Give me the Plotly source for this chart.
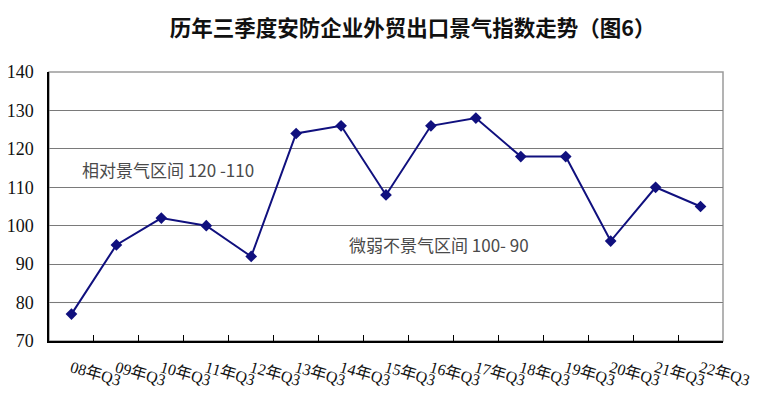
import plotly.graph_objects as go

categories = ["08年Q3", "09年Q3", "10年Q3", "11年Q3", "12年Q3", "13年Q3", "14年Q3", "15年Q3",
              "16年Q3", "17年Q3", "18年Q3", "19年Q3", "20年Q3", "21年Q3", "22年Q3"]
values = [77, 95, 102, 100, 92, 124, 126, 108, 126, 128, 118, 118, 96, 110, 105]
y_ticks = [70, 80, 90, 100, 110, 120, 130, 140]

title_text = "历年三季度安防企业外贸出口景气指数走势（图6）"
note_high = "相对景气区间 120 -110"
note_low = "微弱不景气区间 100- 90"

serif = "Liberation Serif, Times New Roman, Noto Sans CJK SC, serif"
cjk = "Noto Sans CJK SC, sans-serif"

fig = go.Figure()
fig.add_trace(go.Scatter(
    x=categories, y=values, mode="lines+markers",
    line=dict(color="#10107e", width=2),
    marker=dict(symbol="diamond", size=9, color="#10107e"),
    showlegend=False, cliponaxis=False,
))

# plot frame (top/right gray), faint 80 gridline
fig.add_shape(type="rect", xref="paper", yref="paper", x0=0, x1=1, y0=0, y1=1,
              line=dict(color="#9a9a9a", width=1.5), layer="below")
fig.add_shape(type="line", xref="paper", yref="y", x0=0, x1=1, y0=80, y1=80,
              line=dict(color="#ededed", width=1.5), layer="below")

fig.add_annotation(text=note_high, xref="paper", yref="y", x=0.046, y=114.6,
                   xanchor="left", yanchor="middle", showarrow=False,
                   font=dict(family=cjk, size=17, color="#4a4a4a"))
fig.add_annotation(text=note_low, xref="paper", yref="y", x=0.442, y=95.1,
                   xanchor="left", yanchor="middle", showarrow=False,
                   font=dict(family=cjk, size=17, color="#4a4a4a"))

fig.update_layout(
    width=762, height=403,
    margin=dict(l=41, r=47, t=64, b=70, autoexpand=False),
    paper_bgcolor="white", plot_bgcolor="white",
    title=dict(text="<b>" + title_text + "</b>", x=0.531, xanchor="center",
               y=0.95, yanchor="middle", yref="container",
               font=dict(family=cjk, size=21.5, color="#111111")),
    xaxis=dict(
        type="category", range=[-0.5, 14.5], tickson="boundaries",
        ticks="inside", ticklen=6, tickcolor="black", tickwidth=1,
        showline=True, linecolor="black", linewidth=1.5, showgrid=False,
        tickangle=16, ticklabelstandoff=10, automargin=False,
        tickfont=dict(family=serif, size=16, color="#111111"),
    ),
    yaxis=dict(
        range=[70, 140], tickmode="array", tickvals=y_ticks,
        showline=True, linecolor="black", linewidth=1.5,
        showgrid=True, gridcolor="#7a7a7a", gridwidth=1,
        ticks="", ticklabelstandoff=10, zeroline=False, automargin=False,
        tickfont=dict(family=serif, size=18, color="#111111"),
    ),
)

fig.write_html("out.html")
